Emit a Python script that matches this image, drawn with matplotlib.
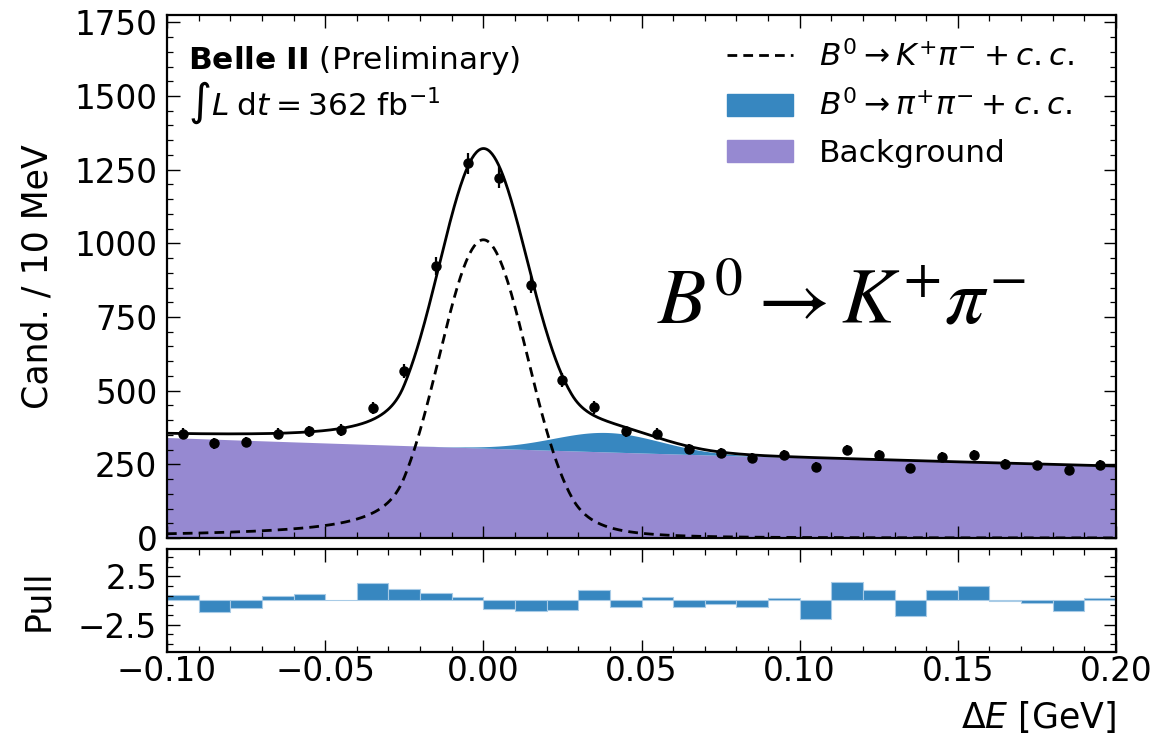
import numpy as np
import matplotlib
matplotlib.use("Agg")
import matplotlib.pyplot as plt
from matplotlib.ticker import MultipleLocator, AutoMinorLocator, FixedLocator, FuncFormatter
from matplotlib.lines import Line2D
from matplotlib.patches import Patch

# ---------------- data ----------------
bin_edges = np.linspace(-0.10, 0.20, 31)
counts = [353, 321, 326, 353, 362, 366, 441, 567, 922, 1271,
          1223, 860, 536, 443, 362, 353, 302, 287, 271, 281,
          241, 299, 282, 236, 276, 281, 251, 247, 230, 248]
pulls = [0.60, -1.16, -0.82, 0.44, 0.65, 0.03, 1.84, 1.22, 0.82, 0.34,
         -0.85, -1.09, -1.02, 1.09, -0.71, 0.34, -0.68, -0.41, -0.68, 0.27,
         -1.94, 1.87, 1.09, -1.56, 1.09, 1.53, -0.10, -0.24, -1.09, 0.27]

# fit-model parameters
kpi_peak, kpi_mean, kpi_sigma = 1012.0, 0.0, 0.014
kpi_alphaL, kpi_nL, kpi_alphaR, kpi_nR = 1.8, 1.2, 2.0, 3.0
pipi_peak, pipi_mean, pipi_sigma = 66.0, 0.039, 0.017
bkg_at0, bkg_k = 305.0, 1.116

xticks = [-0.10, -0.05, 0.00, 0.05, 0.10, 0.15, 0.20]
yticks = [0, 250, 500, 750, 1000, 1250, 1500, 1750]
pull_ticks = [-2.5, 2.5]

c_blue = "#3787c0"
c_purple = "#9689d1"

# ---------------- model curves ----------------
def dscb(x, peak, mu, sig, aL, nL, aR, nR):
    t = (x - mu) / sig
    y = np.exp(-0.5 * t ** 2)
    AL = (nL / aL) ** nL * np.exp(-0.5 * aL ** 2)
    BL = nL / aL - aL
    AR = (nR / aR) ** nR * np.exp(-0.5 * aR ** 2)
    BR = nR / aR - aR
    l = t < -aL
    r = t > aR
    y[l] = AL * (BL - t[l]) ** (-nL)
    y[r] = AR * (BR + t[r]) ** (-nR)
    return peak * y

xs = np.linspace(-0.10, 0.20, 900)
kpi = dscb(xs, kpi_peak, kpi_mean, kpi_sigma, kpi_alphaL, kpi_nL, kpi_alphaR, kpi_nR)
pipi = pipi_peak * np.exp(-0.5 * ((xs - pipi_mean) / pipi_sigma) ** 2)
bkg = bkg_at0 * np.exp(-bkg_k * xs)
total = bkg + pipi + kpi

centers = 0.5 * (bin_edges[:-1] + bin_edges[1:])
counts = np.array(counts, dtype=float)

# ---------------- figure ----------------
plt.rcParams["font.family"] = ["DejaVu Sans"]
plt.rcParams["axes.unicode_minus"] = True
fig = plt.figure(figsize=(11.54, 7.45), dpi=100)
ax = fig.add_axes([0.1447, 0.2779, 0.8224, 0.7020])
axp = fig.add_axes([0.1447, 0.1250, 0.8224, 0.1380], sharex=ax)

ax.fill_between(xs, 0, bkg, color=c_purple, lw=0, zorder=1)
ax.fill_between(xs, bkg, bkg + pipi, color=c_blue, lw=0, zorder=1)
ax.plot(xs, kpi, ls=(0, (3.5, 2.2)), color="black", lw=2.0, zorder=3)
ax.plot(xs, total, color="black", lw=2.0, zorder=3)
ax.errorbar(centers, counts, yerr=np.sqrt(counts), fmt="o", color="black",
            ms=6.5, elinewidth=1.6, capsize=0, zorder=4)

ax.set_xlim(-0.10, 0.20)
ax.set_ylim(0, 1775)
ax.set_yticks(yticks)
ax.yaxis.set_minor_locator(MultipleLocator(50))
ax.xaxis.set_major_locator(FixedLocator(xticks))
ax.xaxis.set_minor_locator(MultipleLocator(0.01))
ax.set_ylabel("Cand. / 10 MeV", fontsize=25)
ax.yaxis.set_label_coords(-0.118, 0.5)
ax.tick_params(labelbottom=False)

for a in (ax, axp):
    a.tick_params(which="both", direction="in", top=True, right=True, labelsize=23.5, pad=7)
    a.tick_params(which="major", length=9, width=1.0)
    a.tick_params(which="minor", length=4.5, width=0.9)
    for s in a.spines.values():
        s.set_linewidth(1.6)
axp.tick_params(axis="x", which="both", pad=2)

# texts
ax.text(0.022, 0.945, r"$\bf{Belle\ II}$ (Preliminary)", transform=ax.transAxes,
        fontsize=22.5, va="top", ha="left")
ax.text(0.022, 0.876, r"$\int L\;\mathrm{d}t = 362$ fb$^{-1}$", transform=ax.transAxes,
        fontsize=22.5, va="top", ha="left")
ax.text(0.711, 0.452, r"$B^0 \rightarrow K^{+}\pi^{-}$", transform=ax.transAxes,
        fontsize=57, ha="center", va="center", math_fontfamily="stix")

handles = [Line2D([0], [0], color="black", ls=(0, (3.5, 2.2)), lw=2.0),
           Patch(facecolor=c_blue, edgecolor=c_blue),
           Patch(facecolor=c_purple, edgecolor=c_purple)]
labels = [r"$B^0 \rightarrow K^{+}\pi^{-} + c.c.$",
          r"$B^0 \rightarrow \pi^{+}\pi^{-} + c.c.$",
          "Background"]
ax.legend(handles, labels, loc="upper right", frameon=False, fontsize=22.5,
          handlelength=2.1, handleheight=0.7, handletextpad=0.84, labelspacing=0.55,
          borderaxespad=0.0, bbox_to_anchor=(0.969, 0.977))

# pull panel
axp.bar(centers, pulls, width=0.01, color=c_blue, edgecolor="#a8cbe6", linewidth=0.8)
axp.set_ylim(-5.3, 5.3)
axp.yaxis.set_major_locator(FixedLocator(pull_ticks))
axp.yaxis.set_minor_locator(AutoMinorLocator(5))
axp.yaxis.set_major_formatter(FuncFormatter(lambda v, p: ("%.1f" % v).replace("-", "\u2212")))
axp.xaxis.set_major_formatter(FuncFormatter(lambda v, p: ("%.2f" % v).replace("-", "\u2212")))
axp.set_ylabel("Pull", fontsize=25)
axp.yaxis.set_label_coords(-0.118, 0.5)
axp.set_xlabel(r"$\Delta E$ [GeV]", fontsize=25, loc="right", labelpad=8)

fig.savefig("out.png", dpi=100)
